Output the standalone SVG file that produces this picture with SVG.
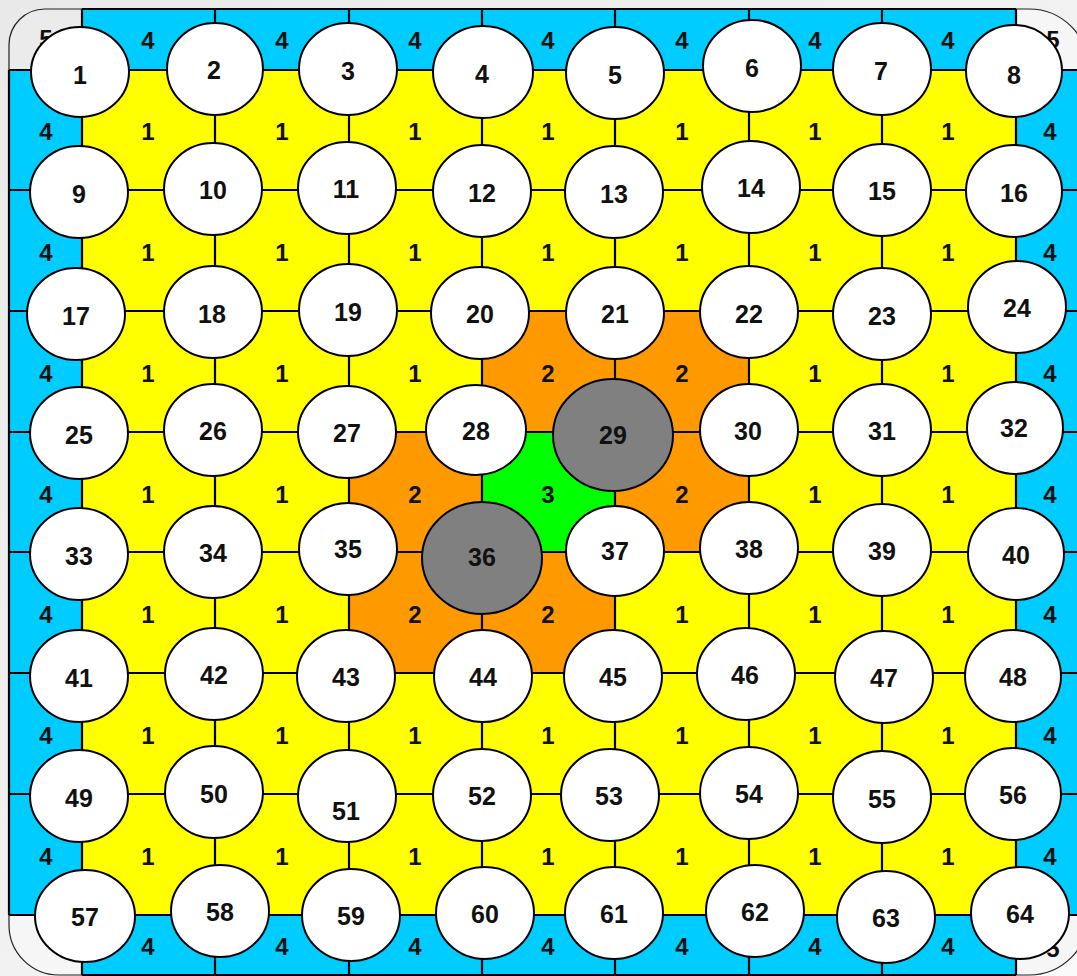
<svg xmlns="http://www.w3.org/2000/svg" width="1077" height="976" viewBox="0 0 1077 976">
<defs>
<linearGradient id="bg" x1="0" y1="0" x2="1" y2="1">
<stop offset="0" stop-color="#e9e9e9"/>
<stop offset="1" stop-color="#fafafa"/>
</linearGradient>
<style>
.blue{fill:#00CCFF}
.yel{fill:#FFFF00}
.org{fill:#FF9900}
.grn{fill:#00FF00}
.corner{fill:#f6f6f6}
.edge{fill:none;stroke:#222;stroke-width:1.2}
.grid line{stroke:#000;stroke-width:2.2}
.node ellipse{fill:#fff;stroke:#000;stroke-width:2}
.node.dark ellipse{fill:#808080}
.node text{font-family:"Liberation Sans",Arial,sans-serif;font-weight:bold;font-size:25px;text-anchor:middle;fill:#111}
.lbl text{font-family:"Liberation Sans",Arial,sans-serif;font-weight:bold;font-size:24px;text-anchor:middle;fill:#111}
</style>
</defs>
<rect x="0" y="0" width="1077" height="976" fill="url(#bg)"/>
<g id="cells">
<path class="corner" d="M82 70 L9 70 L9 45 A36 36 0 0 1 45 9 L82 9 Z" style="fill:#ebebeb"/>
<path class="corner" d="M1016 9 L1029 9 A60 60 0 0 1 1089 69 L1089 70 L1016 70 Z"/>
<path class="corner" d="M9 915 L9 925 A50 50 0 0 0 59 975 L82 975 L82 915 Z"/>
<path class="corner" d="M1016 915 L1089 915 A60 60 0 0 1 1029 975 L1016 975 Z"/>
<path class="edge" d="M9 70 L9 45 A36 36 0 0 1 45 9 L82 9"/>
<path class="edge" d="M1016 9 L1029 9 A60 60 0 0 1 1089 69"/>
<path class="edge" d="M9 915 L9 925 A50 50 0 0 0 59 975 L82 975"/>
<path class="edge" d="M1089 915 A60 60 0 0 1 1029 975 L1016 975"/>
<rect class="blue" x="82" y="9" width="934" height="61"/>
<rect class="blue" x="82" y="915" width="934" height="60"/>
<rect class="blue" x="9" y="70" width="73" height="845"/>
<rect class="blue" x="1016" y="70" width="73" height="845"/>
<rect class="yel" x="82" y="70" width="934" height="845"/>
<rect class="org" x="482" y="311" width="267" height="121"/>
<rect class="org" x="349" y="432" width="133" height="120"/>
<rect class="grn" x="482" y="432" width="133" height="120"/>
<rect class="org" x="615" y="432" width="134" height="120"/>
<rect class="org" x="349" y="552" width="266" height="121"/>
</g>
<g id="connectors" class="grid">
<line x1="82" y1="9" x2="1016" y2="9"/>
<line x1="82" y1="975" x2="1016" y2="975"/>
<line x1="9" y1="70" x2="9" y2="915"/>
<line x1="1089" y1="70" x2="1089" y2="915"/>
<line x1="82" y1="9" x2="82" y2="975"/>
<line x1="215" y1="9" x2="215" y2="975"/>
<line x1="349" y1="9" x2="349" y2="975"/>
<line x1="482" y1="9" x2="482" y2="975"/>
<line x1="615" y1="9" x2="615" y2="975"/>
<line x1="749" y1="9" x2="749" y2="975"/>
<line x1="882" y1="9" x2="882" y2="975"/>
<line x1="1016" y1="9" x2="1016" y2="975"/>
<line x1="9" y1="70" x2="1089" y2="70"/>
<line x1="9" y1="190" x2="1089" y2="190"/>
<line x1="9" y1="311" x2="1089" y2="311"/>
<line x1="9" y1="432" x2="1089" y2="432"/>
<line x1="9" y1="552" x2="1089" y2="552"/>
<line x1="9" y1="673" x2="1089" y2="673"/>
<line x1="9" y1="794" x2="1089" y2="794"/>
<line x1="9" y1="915" x2="1089" y2="915"/>
</g>
<g id="cell-labels" class="lbl">
<text x="46" y="47">5</text>
<text x="1053" y="48">5</text>
<text x="1053" y="957">5</text>
<text x="148" y="49">4</text><text x="282" y="49">4</text><text x="415" y="49">4</text><text x="548" y="49">4</text><text x="682" y="49">4</text><text x="815" y="49">4</text><text x="948" y="49">4</text>
<text x="148" y="955">4</text><text x="282" y="955">4</text><text x="415" y="955">4</text><text x="548" y="955">4</text><text x="682" y="955">4</text><text x="815" y="955">4</text><text x="948" y="955">4</text>
<text x="46" y="140">4</text><text x="46" y="261">4</text><text x="46" y="382">4</text><text x="46" y="503">4</text><text x="46" y="623">4</text><text x="46" y="744">4</text><text x="46" y="865">4</text>
<text x="1050" y="140">4</text><text x="1050" y="261">4</text><text x="1050" y="382">4</text><text x="1050" y="503">4</text><text x="1050" y="623">4</text><text x="1050" y="744">4</text><text x="1050" y="865">4</text>
<text x="148" y="140">1</text><text x="282" y="140">1</text><text x="415" y="140">1</text><text x="548" y="140">1</text><text x="682" y="140">1</text><text x="815" y="140">1</text><text x="948" y="140">1</text>
<text x="148" y="261">1</text><text x="282" y="261">1</text><text x="415" y="261">1</text><text x="548" y="261">1</text><text x="682" y="261">1</text><text x="815" y="261">1</text><text x="948" y="261">1</text>
<text x="148" y="382">1</text><text x="282" y="382">1</text><text x="415" y="382">1</text><text x="548" y="382">2</text><text x="682" y="382">2</text><text x="815" y="382">1</text><text x="948" y="382">1</text>
<text x="148" y="503">1</text><text x="282" y="503">1</text><text x="415" y="503">2</text><text x="548" y="503">3</text><text x="682" y="503">2</text><text x="815" y="503">1</text><text x="948" y="503">1</text>
<text x="148" y="623">1</text><text x="282" y="623">1</text><text x="415" y="623">2</text><text x="548" y="623">2</text><text x="682" y="623">1</text><text x="815" y="623">1</text><text x="948" y="623">1</text>
<text x="148" y="744">1</text><text x="282" y="744">1</text><text x="415" y="744">1</text><text x="548" y="744">1</text><text x="682" y="744">1</text><text x="815" y="744">1</text><text x="948" y="744">1</text>
<text x="148" y="865">1</text><text x="282" y="865">1</text><text x="415" y="865">1</text><text x="548" y="865">1</text><text x="682" y="865">1</text><text x="815" y="865">1</text><text x="948" y="865">1</text>
</g>
<g id="nodes">
<g id="n1" class="node"><ellipse cx="80" cy="72" rx="49" ry="45"/><text x="80" y="84">1</text></g>
<g id="n2" class="node"><ellipse cx="215" cy="69" rx="48" ry="46"/><text x="214" y="79">2</text></g>
<g id="n3" class="node"><ellipse cx="348" cy="69" rx="49" ry="46"/><text x="348" y="80">3</text></g>
<g id="n4" class="node"><ellipse cx="483" cy="72" rx="50" ry="46"/><text x="482" y="83">4</text></g>
<g id="n5" class="node"><ellipse cx="615" cy="73" rx="49" ry="46"/><text x="615" y="84">5</text></g>
<g id="n6" class="node"><ellipse cx="752" cy="66" rx="49" ry="46"/><text x="752" y="77">6</text></g>
<g id="n7" class="node"><ellipse cx="882" cy="69" rx="49" ry="46"/><text x="881" y="80">7</text></g>
<g id="n8" class="node"><ellipse cx="1014" cy="71" rx="48" ry="46"/><text x="1014" y="84">8</text></g>
<g id="n9" class="node"><ellipse cx="79" cy="192" rx="49" ry="46"/><text x="79" y="203">9</text></g>
<g id="n10" class="node"><ellipse cx="213" cy="189" rx="49" ry="46"/><text x="213" y="199">10</text></g>
<g id="n11" class="node"><ellipse cx="347" cy="188" rx="49" ry="46"/><text x="346" y="198">11</text></g>
<g id="n12" class="node"><ellipse cx="482" cy="191" rx="49" ry="46"/><text x="482" y="202">12</text></g>
<g id="n13" class="node"><ellipse cx="614" cy="192" rx="49" ry="46"/><text x="614" y="203">13</text></g>
<g id="n14" class="node"><ellipse cx="751" cy="187" rx="49" ry="46"/><text x="751" y="197">14</text></g>
<g id="n15" class="node"><ellipse cx="882" cy="190" rx="49" ry="46"/><text x="882" y="200">15</text></g>
<g id="n16" class="node"><ellipse cx="1014" cy="191" rx="48" ry="46"/><text x="1014" y="202">16</text></g>
<g id="n17" class="node"><ellipse cx="76" cy="314" rx="49" ry="46"/><text x="76" y="325">17</text></g>
<g id="n18" class="node"><ellipse cx="213" cy="312" rx="49" ry="46"/><text x="212" y="323">18</text></g>
<g id="n19" class="node"><ellipse cx="348" cy="310" rx="49" ry="46"/><text x="348" y="321">19</text></g>
<g id="n20" class="node"><ellipse cx="480" cy="313" rx="49" ry="46"/><text x="480" y="323">20</text></g>
<g id="n21" class="node"><ellipse cx="615" cy="313" rx="49" ry="46"/><text x="615" y="323">21</text></g>
<g id="n22" class="node"><ellipse cx="749" cy="312" rx="49" ry="46"/><text x="749" y="323">22</text></g>
<g id="n23" class="node"><ellipse cx="882" cy="314" rx="49" ry="46"/><text x="882" y="325">23</text></g>
<g id="n24" class="node"><ellipse cx="1017" cy="307" rx="49" ry="46"/><text x="1017" y="317">24</text></g>
<g id="n25" class="node"><ellipse cx="79" cy="433" rx="49" ry="46"/><text x="79" y="444">25</text></g>
<g id="n26" class="node"><ellipse cx="213" cy="430" rx="49" ry="46"/><text x="213" y="440">26</text></g>
<g id="n27" class="node"><ellipse cx="347" cy="432" rx="49" ry="46"/><text x="347" y="442">27</text></g>
<g id="n28" class="node"><ellipse cx="476" cy="430" rx="50" ry="45"/><text x="476" y="440">28</text></g>
<g id="n29" class="node dark"><ellipse cx="613" cy="435" rx="60" ry="56"/><text x="613" y="444">29</text></g>
<g id="n30" class="node"><ellipse cx="749" cy="430" rx="49" ry="46"/><text x="748" y="440">30</text></g>
<g id="n31" class="node"><ellipse cx="882" cy="430" rx="49" ry="46"/><text x="882" y="440">31</text></g>
<g id="n32" class="node"><ellipse cx="1015" cy="428" rx="48" ry="46"/><text x="1014" y="437">32</text></g>
<g id="n33" class="node"><ellipse cx="79" cy="554" rx="49" ry="46"/><text x="79" y="565">33</text></g>
<g id="n34" class="node"><ellipse cx="213" cy="552" rx="49" ry="46"/><text x="213" y="562">34</text></g>
<g id="n35" class="node"><ellipse cx="348" cy="549" rx="49" ry="46"/><text x="348" y="558">35</text></g>
<g id="n36" class="node dark"><ellipse cx="482" cy="558" rx="60" ry="56"/><text x="482" y="566">36</text></g>
<g id="n37" class="node"><ellipse cx="615" cy="551" rx="49" ry="45"/><text x="615" y="560">37</text></g>
<g id="n38" class="node"><ellipse cx="749" cy="548" rx="49" ry="46"/><text x="749" y="558">38</text></g>
<g id="n39" class="node"><ellipse cx="882" cy="550" rx="49" ry="46"/><text x="882" y="560">39</text></g>
<g id="n40" class="node"><ellipse cx="1016" cy="554" rx="48" ry="46"/><text x="1016" y="564">40</text></g>
<g id="n41" class="node"><ellipse cx="79" cy="676" rx="49" ry="46"/><text x="79" y="687">41</text></g>
<g id="n42" class="node"><ellipse cx="214" cy="674" rx="49" ry="46"/><text x="214" y="684">42</text></g>
<g id="n43" class="node"><ellipse cx="346" cy="676" rx="49" ry="46"/><text x="346" y="686">43</text></g>
<g id="n44" class="node"><ellipse cx="483" cy="676" rx="49" ry="46"/><text x="483" y="686">44</text></g>
<g id="n45" class="node"><ellipse cx="613" cy="676" rx="49" ry="46"/><text x="613" y="686">45</text></g>
<g id="n46" class="node"><ellipse cx="746" cy="674" rx="49" ry="46"/><text x="745" y="684">46</text></g>
<g id="n47" class="node"><ellipse cx="884" cy="677" rx="49" ry="46"/><text x="884" y="687">47</text></g>
<g id="n48" class="node"><ellipse cx="1013" cy="676" rx="48" ry="46"/><text x="1013" y="686">48</text></g>
<g id="n49" class="node"><ellipse cx="79" cy="796" rx="49" ry="46"/><text x="79" y="807">49</text></g>
<g id="n50" class="node"><ellipse cx="214" cy="792" rx="49" ry="46"/><text x="214" y="803">50</text></g>
<g id="n51" class="node"><ellipse cx="347" cy="796" rx="49" ry="46"/><text x="346" y="820">51</text></g>
<g id="n52" class="node"><ellipse cx="482" cy="795" rx="49" ry="46"/><text x="482" y="805">52</text></g>
<g id="n53" class="node"><ellipse cx="610" cy="795" rx="49" ry="46"/><text x="609" y="805">53</text></g>
<g id="n54" class="node"><ellipse cx="749" cy="793" rx="49" ry="46"/><text x="749" y="803">54</text></g>
<g id="n55" class="node"><ellipse cx="882" cy="797" rx="49" ry="46"/><text x="882" y="808">55</text></g>
<g id="n56" class="node"><ellipse cx="1013" cy="794" rx="48" ry="46"/><text x="1013" y="804">56</text></g>
<g id="n57" class="node"><ellipse cx="85" cy="916" rx="50" ry="46"/><text x="85" y="926">57</text></g>
<g id="n58" class="node"><ellipse cx="220" cy="911" rx="49" ry="46"/><text x="220" y="921">58</text></g>
<g id="n59" class="node"><ellipse cx="351" cy="915" rx="49" ry="46"/><text x="351" y="925">59</text></g>
<g id="n60" class="node"><ellipse cx="485" cy="913" rx="49" ry="46"/><text x="485" y="923">60</text></g>
<g id="n61" class="node"><ellipse cx="614" cy="913" rx="49" ry="46"/><text x="614" y="923">61</text></g>
<g id="n62" class="node"><ellipse cx="755" cy="911" rx="49" ry="46"/><text x="755" y="921">62</text></g>
<g id="n63" class="node"><ellipse cx="886" cy="917" rx="49" ry="46"/><text x="886" y="927">63</text></g>
<g id="n64" class="node"><ellipse cx="1020" cy="913" rx="49" ry="46"/><text x="1020" y="923">64</text></g>
</g>
</svg>
